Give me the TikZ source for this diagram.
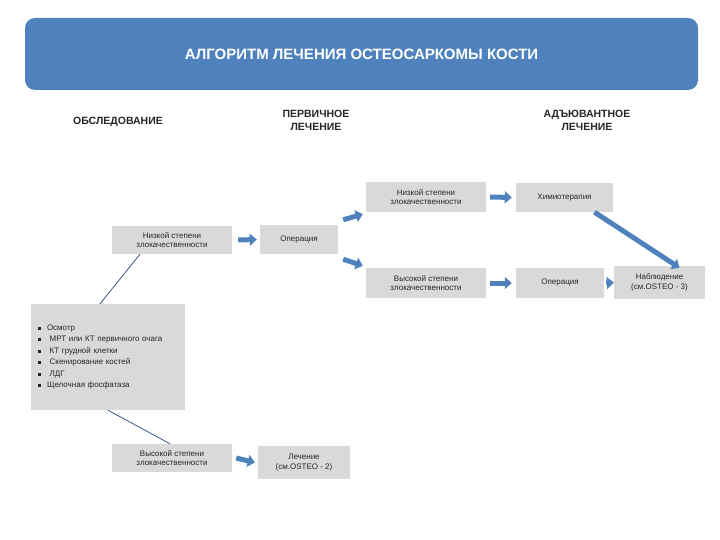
\documentclass[tikz,border=0pt]{standalone}
\usepackage{fontspec}
\setmainfont{Liberation Sans}
\usetikzlibrary{arrows.meta}
\definecolor{bl}{HTML}{4F81BD}
\definecolor{gb}{HTML}{D9D9D9}
\definecolor{tx}{HTML}{262626}
\begin{document}
\begin{tikzpicture}[x=1pt,y=-1pt,
  box/.style={fill=gb,text=tx,font=\fontsize{8}{9.5}\selectfont,align=center,inner sep=0pt},
  hdr/.style={font=\bfseries\fontsize{10.5}{13}\selectfont,text=tx,align=center},
  bigarr/.style={draw=bl,line width=5pt,-{Triangle[length=7pt,width=12pt]}},
  thin/.style={draw=bl!70!black,line width=0.8pt}]
\useasboundingbox (0,0) rectangle (720,540);
\node[fill=bl,rounded corners=10pt,minimum width=673pt,minimum height=72pt,text=white,font=\bfseries\fontsize{15}{18}\selectfont] (title) at (361.5,54) {АЛГОРИТМ ЛЕЧЕНИЯ ОСТЕОСАРКОМЫ КОСТИ};
\node[hdr] (h1) at (118,122) {ОБСЛЕДОВАНИЕ};
\node[hdr] (h2) at (316,120) {ПЕРВИЧНОЕ\\ЛЕЧЕНИЕ};
\node[hdr] (h3) at (587,120) {АДЪЮВАНТНОЕ\\ЛЕЧЕНИЕ};
\node[box,minimum width=120pt,minimum height=28pt] (low1) at (172,240) {Низкой степени\\злокачественности};
\node[box,minimum width=78pt,minimum height=29pt] (op1) at (299,239.5) {Операция};
\node[box,minimum width=120pt,minimum height=30pt] (low2) at (426,197) {Низкой степени\\злокачественности};
\node[box,minimum width=97pt,minimum height=29pt] (chem) at (564.5,197.5) {Химиотерапия};
\node[box,minimum width=120pt,minimum height=30pt] (high2) at (426,283) {Высокой степени\\злокачественности};
\node[box,minimum width=88pt,minimum height=30pt] (op2) at (560,283) {Операция};
\node[box,minimum width=91pt,minimum height=33pt] (obs) at (659.5,282.5) {Наблюдение\\(см.OSTEO - 3)};
\node[box,minimum width=154pt,minimum height=106pt,align=left,text width=146pt,inner xsep=4pt] (list) at (108,357) {%
\begin{minipage}{146pt}\fontsize{8}{11.5}\selectfont
\begin{list}{\rule[0.5pt]{3pt}{3pt}}{\leftmargin=12pt\labelwidth=8pt\labelsep=6pt\itemsep=0pt\parsep=0pt\topsep=0pt}
\item Осмотр
\item \ МРТ или КТ первичного очага
\item \ КТ грудной клетки
\item \ Скенирование костей
\item \ ЛДГ
\item Щелочная фосфатаза
\end{list}\end{minipage}};
\node[box,minimum width=120pt,minimum height=28pt] (high1) at (172,458) {Высокой степени\\злокачественности};
\node[box,minimum width=92pt,minimum height=33pt] (tr) at (304,462.5) {Лечение\\(см.OSTEO - 2)};
\draw[thin] ([xshift=-8pt]list.north) -- ([xshift=-32pt]low1.south);
\draw[thin] (list.south) -- ([xshift=-2pt]high1.north);
\draw[bigarr] (low1.east) ++(6pt,0) -- ([xshift=-3pt]op1.west);
\draw[bigarr] ([shift={(5pt,5pt)}]op1.north east) -- ([shift={(-3pt,-2pt)}]low2.south west);
\draw[bigarr] ([shift={(5pt,-5pt)}]op1.south east) -- ([shift={(-3pt,2pt)}]high2.north west);
\draw[bigarr] ([xshift=4pt]low2.east) -- ([xshift=-4pt]chem.west);
\draw[bigarr] ([xshift=4pt]high2.east) -- ([xshift=-4pt]op2.west);
\draw[bigarr] ([xshift=2pt]op2.east) -- (obs.west);
\draw[bigarr] ([xshift=30pt]chem.south) -- ([xshift=20pt,yshift=-2pt]obs.north);
\draw[bigarr] ([xshift=4pt]high1.east) -- ([xshift=-3pt]tr.west);
\end{tikzpicture}
\end{document}
